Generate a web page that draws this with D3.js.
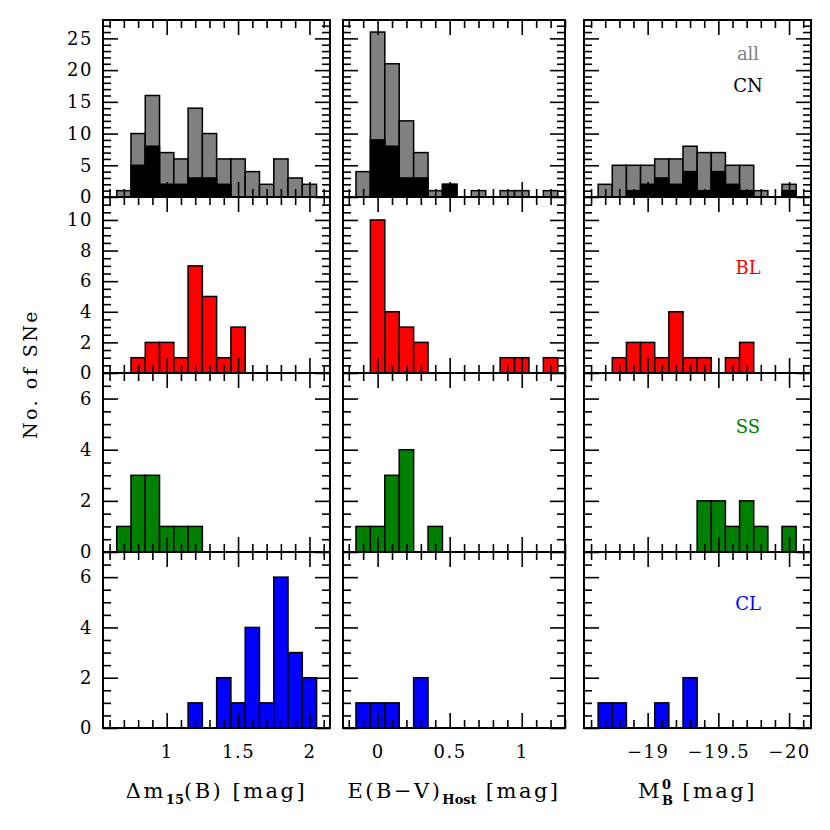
<!DOCTYPE html>
<html>
<head>
<meta charset="utf-8">
<script src="https://cdn.jsdelivr.net/npm/d3@7"></script>
<style>
  body { margin: 0; background: #fff; }
  text { font-family: "DejaVu Serif", serif; }
</style>
</head>
<body>
<svg id="chart" width="830" height="830"></svg>
<script>
// bin left edges (bin width 0.1)
const dm15Bins = [0.65,0.75,0.85,0.95,1.05,1.15,1.25,1.35,1.45,1.55,1.65,1.75,1.85,1.95];
const ebvBins  = [-0.15,-0.05,0.05,0.15,0.25,0.35,0.45,0.55,0.65,0.75,0.85,0.95,1.05,1.15];
const mbBins   = [-18.65,-18.75,-18.85,-18.95,-19.05,-19.15,-19.25,-19.35,-19.45,-19.55,-19.65,-19.75,-19.85,-19.95];
const binWidth = 0.1;

// counts per bin
const dm15All = [1,10,16,7,6,14,10,6,6,4,2,6,3,2];
const dm15CN  = [0,5,8,2,2,3,3,2,0,0,0,0,0,0];
const dm15BL  = [0,1,2,2,1,7,5,1,3,0,0,0,0,0];
const dm15SS  = [1,3,3,1,1,1,0,0,0,0,0,0,0,0];
const dm15CL  = [0,0,0,0,0,1,0,2,1,4,1,6,3,2];

const ebvAll = [4,26,21,12,7,1,2,0,1,0,1,1,0,1];
const ebvCN  = [0,9,8,3,3,0,2,0,0,0,0,0,0,0];
const ebvBL  = [0,10,4,3,2,0,0,0,0,0,1,1,0,1];
const ebvSS  = [1,1,3,4,0,1,0,0,0,0,0,0,0,0];
const ebvCL  = [1,1,1,0,2,0,0,0,0,0,0,0,0,0];

const mbAll = [2,5,5,5,6,6,8,7,7,5,5,1,0,2];
const mbCN  = [0,0,1,2,3,2,4,1,4,2,1,0,0,1];
const mbBL  = [0,1,2,2,1,4,1,1,0,1,2,0,0,0];
const mbSS  = [0,0,0,0,0,0,0,2,2,1,2,1,0,1];
const mbCL  = [1,1,0,0,1,0,2,0,0,0,0,0,0,0];

// tick labels
const dm15Ticks = [1, 1.5, 2];
const ebvTicks  = [0, 0.5, 1];
const mbTicks   = [-19, -19.5, -20];
const row1Ticks = [0,5,10,15,20,25];
const row2Ticks = [0,2,4,6,8,10];
const row3Ticks = [0,2,4,6];

const svg = d3.select("#chart");
const colX = [[103,330],[343,565],[584,811]];
const rowY = [[20,197],[197,373],[373,552],[552,728]];
const majorLen = 15, minorLen = 8;

const columns = [
  {bins: dm15Bins, domain: [0.554, 2.144], major: dm15Ticks, fmt: d => String(d),
   series: [[dm15All, dm15CN], [dm15BL], [dm15SS], [dm15CL]]},
  {bins: ebvBins, domain: [-0.24, 1.30], major: ebvTicks, fmt: d => String(d),
   series: [[ebvAll, ebvCN], [ebvBL], [ebvSS], [ebvCL]]},
  {bins: mbBins, domain: [-18.55, -20.155], major: mbTicks, fmt: d => String(d).replace("-", "\u2212"),
   series: [[mbAll, mbCN], [mbBL], [mbSS], [mbCL]]}
];
const rows = [
  {yMax: 27.9, major: row1Ticks, minorStep: 1, colors: ["#808080", "#000000"]},
  {yMax: 11.5, major: row2Ticks, minorStep: 0.5, colors: ["#ff0000"]},
  {yMax: 7, major: row3Ticks, minorStep: 0.5, colors: ["#008000"]},
  {yMax: 7, major: row3Ticks, minorStep: 0.5, colors: ["#0000ff"]}
];
const labels = [
  [{t: "all", c: "#808080", dy: 40}, {t: "CN", c: "#000000", dy: 72}],
  [{t: "BL", c: "#ff0000", dy: 77}],
  [{t: "SS", c: "#008000", dy: 60}],
  [{t: "CL", c: "#0000ff", dy: 58}]
];

function tickLines(sel) {
  sel.select(".domain").remove();
  sel.selectAll("line").attr("stroke", "#000").attr("stroke-width", 1.6);
}

rows.forEach((row, ri) => {
  const [y0, y1] = rowY[ri];
  const y = d3.scaleLinear().domain([0, row.yMax]).range([y1, y0]);
  const yMinor = d3.range(0, row.yMax, row.minorStep).filter(v => row.major.indexOf(v) < 0);

  columns.forEach((col, ci) => {
    const [x0, x1] = colX[ci];
    const x = d3.scaleLinear().domain(col.domain).range([x0, x1]);
    const g = svg.append("g");
    const step = ci === 2 ? -binWidth : binWidth;

    // bars
    col.series[ri].forEach((counts, si) => {
      g.selectAll(null)
        .data(col.bins.map((b, i) => ({b, c: counts[i]})).filter(d => d.c > 0))
        .enter().append("rect")
          .attr("x", d => Math.min(x(d.b), x(d.b + step)))
          .attr("width", d => Math.abs(x(d.b + step) - x(d.b)))
          .attr("y", d => y(d.c))
          .attr("height", d => y(0) - y(d.c))
          .attr("fill", row.colors[si])
          .attr("stroke", "#000")
          .attr("stroke-width", 1.5);
    });

    // ticks on all four sides, pointing in
    const lo = Math.min(col.domain[0], col.domain[1]), hi = Math.max(col.domain[0], col.domain[1]);
    const xMinor = d3.range(Math.ceil(lo * 10), Math.floor(hi * 10) + 1).map(v => v / 10)
      .filter(v => !col.major.some(m => Math.abs(m - v) < 1e-6));
    [[d3.axisBottom, y1], [d3.axisTop, y0]].forEach(([fn, ty]) => {
      g.append("g").attr("transform", `translate(0,${ty})`)
        .call(fn(x).tickValues(xMinor).tickSize(-minorLen).tickFormat("")).call(tickLines);
      g.append("g").attr("transform", `translate(0,${ty})`)
        .call(fn(x).tickValues(col.major).tickSize(-majorLen).tickFormat("")).call(tickLines);
    });
    [[d3.axisLeft, x0], [d3.axisRight, x1]].forEach(([fn, tx]) => {
      g.append("g").attr("transform", `translate(${tx},0)`)
        .call(fn(y).tickValues(yMinor).tickSize(-minorLen).tickFormat("")).call(tickLines);
      g.append("g").attr("transform", `translate(${tx},0)`)
        .call(fn(y).tickValues(row.major).tickSize(-majorLen).tickFormat("")).call(tickLines);
    });

    g.append("rect")
      .attr("x", x0).attr("y", y0).attr("width", x1 - x0).attr("height", y1 - y0)
      .attr("fill", "none").attr("stroke", "#000").attr("stroke-width", 2);

    // tick labels
    if (ci === 0) {
      g.append("g").attr("transform", `translate(${x0},0)`)
        .call(d3.axisLeft(y).tickValues(row.major).tickSize(0).tickPadding(10).tickFormat(d => String(d)))
        .call(a => a.select(".domain").remove())
        .selectAll("text")
          .attr("font-family", "DejaVu Serif").attr("font-size", 18)
          .attr("letter-spacing", 1.5).attr("fill", "#000");
    }
    if (ri === 3) {
      g.append("g").attr("transform", `translate(0,${y1})`)
        .call(d3.axisBottom(x).tickValues(col.major).tickSize(0).tickPadding(17).tickFormat(col.fmt))
        .call(a => a.select(".domain").remove())
        .selectAll("text")
          .attr("font-family", "DejaVu Serif").attr("font-size", 18)
          .attr("letter-spacing", 1.5).attr("fill", "#000");
    }
    if (ci === 2) {
      labels[ri].forEach(l => {
        svg.append("text").attr("x", 748).attr("y", y0 + l.dy)
          .attr("text-anchor", "middle").attr("font-size", 18).attr("fill", l.c)
          .text(l.t);
      });
    }
  });
});

// axis titles
const titleY = 798;
const t1 = svg.append("text").attr("x", (colX[0][0] + colX[0][1]) / 2).attr("y", titleY)
  .attr("text-anchor", "middle").attr("font-size", 21).attr("letter-spacing", 2.5);
t1.append("tspan").text("\u0394m");
t1.append("tspan").attr("font-size", 13).attr("font-weight", "bold").attr("letter-spacing", 0).attr("dy", 6).text("15");
t1.append("tspan").attr("dy", -6).text("(B) [mag]");

const t2 = svg.append("text").attr("x", (colX[1][0] + colX[1][1]) / 2).attr("y", titleY)
  .attr("text-anchor", "middle").attr("font-size", 21).attr("letter-spacing", 2.5);
t2.append("tspan").text("E(B\u2212V)");
t2.append("tspan").attr("font-size", 13).attr("font-weight", "bold").attr("letter-spacing", 0).attr("dy", 6).text("Host");
t2.append("tspan").attr("dy", -6).text(" [mag]");

const t3 = svg.append("text").attr("x", (colX[2][0] + colX[2][1]) / 2).attr("y", titleY)
  .attr("text-anchor", "middle").attr("font-size", 21).attr("letter-spacing", 2.5);
t3.append("tspan").text("M");
t3.append("tspan").attr("font-size", 13).attr("font-weight", "bold").attr("letter-spacing", 0).attr("dy", -9).text("0");
t3.append("tspan").attr("font-size", 13).attr("font-weight", "bold").attr("letter-spacing", 0).attr("dx", -9).attr("dy", 16).text("B");
t3.append("tspan").attr("dy", -7).text(" [mag]");

svg.append("text")
  .attr("transform", `translate(37,${(rowY[0][0] + rowY[3][1]) / 2}) rotate(-90)`)
  .attr("text-anchor", "middle").attr("font-size", 19).attr("letter-spacing", 2.5)
  .text("No. of SNe");
</script>
</body>
</html>
